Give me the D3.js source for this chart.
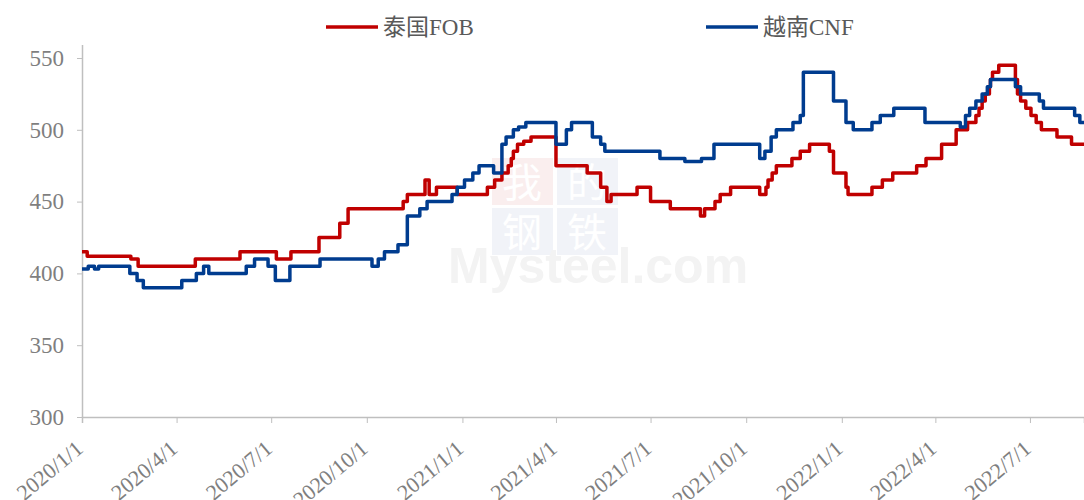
<!DOCTYPE html>
<html><head><meta charset="utf-8">
<script src="https://cdn.jsdelivr.net/npm/d3@7"></script>
<style>
html,body{margin:0;padding:0;background:#fff;}
svg{display:block;}
</style></head>
<body>
<svg id="chart" width="1084" height="500"></svg>
<script>
// ---------- data ----------
const seriesNames = ["泰国FOB", "越南CNF"];
const endDate = "2022-08-22";
const yTicks = [300, 350, 400, 450, 500, 550];
const xTickLabels = ["2020/1/1","2020/4/1","2020/7/1","2020/10/1","2021/1/1","2021/4/1","2021/7/1","2021/10/1","2022/1/1","2022/4/1","2022/7/1"];

const thaiDates = ["2020-01-01","2020-01-06","2020-02-17","2020-02-24","2020-04-19","2020-06-01","2020-07-06","2020-07-20","2020-08-16","2020-09-05","2020-09-13","2020-11-05","2020-11-09","2020-11-26","2020-11-30","2020-12-07","2020-12-27","2021-01-25","2021-02-01","2021-02-08","2021-02-14","2021-02-17","2021-02-19","2021-02-23","2021-03-01","2021-03-08","2021-04-01","2021-05-01","2021-05-14","2021-05-20","2021-05-24","2021-06-18","2021-07-01","2021-07-20","2021-08-18","2021-08-22","2021-09-01","2021-09-06","2021-09-16","2021-10-14","2021-10-20","2021-10-22","2021-10-26","2021-10-30","2021-11-14","2021-11-22","2021-12-01","2021-12-20","2021-12-24","2022-01-05","2022-01-07","2022-01-30","2022-02-09","2022-02-19","2022-03-14","2022-03-23","2022-04-07","2022-04-21","2022-05-02","2022-05-10","2022-05-13","2022-05-16","2022-05-19","2022-05-23","2022-05-24","2022-05-26","2022-06-01","2022-06-17","2022-06-19","2022-06-22","2022-06-27","2022-07-02","2022-07-07","2022-07-12","2022-07-27","2022-08-10"];
const thaiValues = [415,412,410,405,410,415,410,415,425,435,445,450,455,465,455,460,455,460,465,470,475,480,485,490,492,495,475,470,460,450,455,460,450,445,440,445,450,455,460,455,460,465,470,475,480,485,490,485,470,460,455,460,465,470,475,480,490,500,505,510,515,520,525,530,535,540,545,535,525,520,515,510,505,500,495,490];

const vietDates = ["2020-01-01","2020-01-07","2020-01-13","2020-01-17","2020-02-16","2020-02-23","2020-02-29","2020-04-06","2020-04-20","2020-04-27","2020-05-02","2020-06-07","2020-06-15","2020-06-28","2020-07-05","2020-07-19","2020-08-17","2020-10-06","2020-10-12","2020-10-18","2020-10-31","2020-11-09","2020-11-21","2020-11-28","2020-12-22","2020-12-27","2021-01-03","2021-01-11","2021-01-17","2021-01-31","2021-02-08","2021-02-12","2021-02-19","2021-02-24","2021-03-03","2021-04-01","2021-04-11","2021-04-16","2021-05-06","2021-05-14","2021-05-18","2021-07-10","2021-08-03","2021-08-19","2021-08-31","2021-10-14","2021-10-19","2021-10-25","2021-10-30","2021-11-15","2021-11-22","2021-11-25","2021-12-24","2022-01-05","2022-01-12","2022-01-30","2022-02-07","2022-02-20","2022-03-22","2022-04-25","2022-04-30","2022-05-04","2022-05-10","2022-05-16","2022-05-21","2022-05-24","2022-06-17","2022-06-22","2022-07-10","2022-07-14","2022-08-13","2022-08-18"];
const vietValues = [403,405,403,405,400,395,390,395,400,405,400,405,410,405,395,405,410,405,410,415,420,440,445,450,455,460,465,470,475,470,490,495,500,502,505,490,500,505,495,490,485,480,478,480,490,480,485,495,500,505,510,540,520,505,500,505,510,515,505,502,510,515,520,525,530,535,530,525,520,515,510,505];

const colors = ["#C00000", "#003C8F"];

// ---------- chart ----------
const parse = d3.utcParse("%Y-%m-%d");
const parseTick = d3.utcParse("%Y/%m/%d");
const svg = d3.select("#chart");
const fontSerif = "'Times New Roman','Liberation Serif','Noto Sans CJK SC',serif";

const x = d3.scaleUtc().domain([parse("2020-01-01"), parse(endDate)]).range([82, 1084]);
const y = d3.scaleLinear().domain([300, 550]).range([417, 58]);

// watermark (faint logo)
const wm = svg.append("g").attr("class", "watermark");
const wmChars = ["我", "的", "钢", "铁"];
const wmFill = ["#faeeee", "#f1f3f8", "#f1f3f8", "#f1f3f8"];
wmChars.forEach((c, i) => {
  const bx = 492 + (i % 2) * 65, by = 158 + Math.floor(i / 2) * 50;
  wm.append("rect").attr("x", bx).attr("y", by).attr("width", 61).attr("height", 47).attr("fill", wmFill[i]);
  wm.append("text").attr("x", bx + 30).attr("y", by + 39).attr("text-anchor", "middle")
    .attr("font-family", "'Noto Sans CJK SC'").attr("font-size", 40).attr("fill", "#ffffff").text(c);
});
wm.append("text").attr("x", 448).attr("y", 283).attr("font-family", "Arial, 'Liberation Sans', sans-serif")
  .attr("font-weight", "bold").attr("font-size", 50).attr("fill", "#f3f3f3").text("Mysteel.com");

// y axis
const yAxis = d3.axisLeft(y).tickValues(yTicks).tickSize(5).tickPadding(13).tickFormat(d3.format("d"));
const gy = svg.append("g").attr("transform", "translate(82,0)").call(yAxis);
gy.select(".domain").remove();
gy.selectAll(".tick line").attr("stroke", "#bfbfbf");
gy.selectAll(".tick text").attr("fill", "#7f7f7f").attr("font-family", fontSerif).attr("font-size", 23);
svg.append("line").attr("x1", 82.5).attr("x2", 82.5).attr("y1", 45).attr("y2", 417).attr("stroke", "#bfbfbf").attr("stroke-width", 1.5);

// x axis
const xTickDates = xTickLabels.map(s => parseTick(s));
const xAxis = d3.axisBottom(x).tickValues(xTickDates).tickSize(6)
  .tickFormat((d, i) => xTickLabels[i]);
const gx = svg.append("g").attr("transform", "translate(0,417)").call(xAxis);
gx.select(".domain").attr("stroke", "#bfbfbf").attr("stroke-width", 1.5);
gx.selectAll(".tick line").attr("stroke", "#bfbfbf");
gx.selectAll(".tick text").attr("fill", "#7f7f7f").attr("font-family", fontSerif).attr("font-size", 22)
  .attr("text-anchor", "end").attr("dy", "0.35em")
  .attr("transform", "translate(-3,28) rotate(-40)").attr("y", 0).attr("x", 0);

// lines
const series = [
  { name: seriesNames[0], dates: thaiDates, values: thaiValues, color: colors[0] },
  { name: seriesNames[1], dates: vietDates, values: vietValues, color: colors[1] }
];
const line = d3.line().x(d => x(d.date)).y(d => y(d.value)).curve(d3.curveStepAfter);
series.forEach(s => {
  const pts = s.dates.map((d, i) => ({ date: parse(d), value: s.values[i] }));
  pts.push({ date: parse(endDate), value: s.values[s.values.length - 1] });
  svg.append("path").datum(pts).attr("fill", "none").attr("stroke", s.color)
    .attr("stroke-width", 3.5).attr("stroke-linejoin", "round").attr("d", line);
});

// legend
const legendX = [326, 706];
series.forEach((s, i) => {
  const g = svg.append("g").attr("transform", `translate(${legendX[i]},27)`);
  g.append("line").attr("x1", 0).attr("x2", 52).attr("y1", 0).attr("y2", 0)
    .attr("stroke", s.color).attr("stroke-width", 3.5);
  g.append("text").attr("x", 57).attr("y", 0).attr("dy", "0.35em")
    .attr("font-family", fontSerif).attr("font-size", 23).attr("fill", "#595959").text(s.name);
});
</script>
</body></html>
